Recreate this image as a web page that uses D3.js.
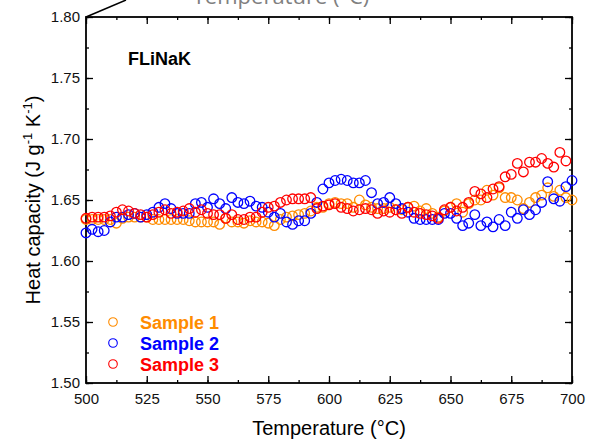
<!DOCTYPE html>
<html>
<head>
<meta charset="utf-8">
<script src="https://cdn.jsdelivr.net/npm/d3@7"></script>
<style>
  body { margin: 0; background: #fff; }
  text { font-family: "Liberation Sans", Arial, sans-serif; }
</style>
</head>
<body>
<div id="chart"></div>
<script>
// temperatures (°C) for the measured points
const temps = [500, 502.5, 505, 507.5, 510, 512.5, 515, 517.5, 520, 522.5,
  525, 527.5, 530, 532.5, 535, 537.5, 540, 542.5, 545, 547.5,
  550, 552.5, 555, 557.5, 560, 562.5, 565, 567.5, 570, 572.5,
  575, 577.5, 580, 582.5, 585, 587.5, 590, 592.5, 595, 597.5,
  600, 602.5, 605, 607.5, 610, 612.5, 615, 617.5, 620, 622.5,
  625, 627.5, 630, 632.5, 635, 637.5, 640, 642.5, 645, 647.5,
  650, 652.5, 655, 657.5, 660, 662.5, 665, 667.5, 670, 672.5,
  675, 677.5, 680, 682.5, 685, 687.5, 690, 692.5, 695, 697.5, 700];

const sample1 = [1.634, 1.634, 1.634, 1.634, 1.634, 1.631, 1.635, 1.636, 1.636, 1.636,
  1.636, 1.634, 1.634, 1.634, 1.634, 1.634, 1.634, 1.633, 1.632, 1.632,
  1.632, 1.632, 1.630, 1.635, 1.632, 1.632, 1.631, 1.633, 1.632, 1.632,
  1.631, 1.629, 1.634, 1.636, 1.637, 1.638, 1.639, 1.641, 1.644, 1.644,
  1.647, 1.648, 1.647, 1.647, 1.644, 1.650, 1.646, 1.644, 1.643, 1.643,
  1.644, 1.642, 1.642, 1.644, 1.645, 1.641, 1.643, 1.639, 1.636, 1.641,
  1.644, 1.647, 1.640, 1.647, 1.650, 1.650, 1.658, 1.654, 1.660, 1.652,
  1.652, 1.650, 1.643, 1.648, 1.652, 1.654, 1.660, 1.653, 1.658, 1.652, 1.650];

const sample2 = [1.623, 1.626, 1.624, 1.625, 1.632, 1.636, 1.636, 1.638, 1.639, 1.636,
  1.638, 1.640, 1.644, 1.647, 1.643, 1.639, 1.639, 1.639, 1.647, 1.648,
  1.644, 1.651, 1.647, 1.643, 1.652, 1.648, 1.647, 1.649, 1.645, 1.644,
  1.640, 1.636, 1.639, 1.632, 1.630, 1.633, 1.633, 1.639, 1.648, 1.659,
  1.664, 1.666, 1.667, 1.666, 1.664, 1.664, 1.666, 1.656, 1.647, 1.648,
  1.652, 1.647, 1.643, 1.640, 1.635, 1.634, 1.634, 1.634, 1.634, 1.639,
  1.639, 1.635, 1.629, 1.631, 1.638, 1.629, 1.632, 1.628, 1.634, 1.629,
  1.640, 1.635, 1.642, 1.638, 1.642, 1.648, 1.665, 1.651, 1.649, 1.661, 1.666];

const sample3 = [1.635, 1.636, 1.636, 1.636, 1.637, 1.640, 1.642, 1.641, 1.639, 1.638,
  1.636, 1.638, 1.640, 1.642, 1.639, 1.640, 1.641, 1.643, 1.640, 1.642,
  1.639, 1.638, 1.638, 1.635, 1.638, 1.634, 1.634, 1.636, 1.636, 1.640,
  1.644, 1.645, 1.648, 1.650, 1.651, 1.651, 1.651, 1.652, 1.643, 1.645,
  1.646, 1.647, 1.644, 1.643, 1.641, 1.642, 1.643, 1.642, 1.639, 1.641,
  1.640, 1.642, 1.639, 1.644, 1.640, 1.639, 1.638, 1.637, 1.635, 1.642,
  1.644, 1.641, 1.644, 1.648, 1.657, 1.655, 1.652, 1.659, 1.661, 1.669,
  1.671, 1.680, 1.673, 1.681, 1.681, 1.684, 1.680, 1.677, 1.689, 1.682];

const seriesNames = ["Sample 1", "Sample 2", "Sample 3"];
const seriesColors = ["#ff8c00", "#0000ff", "#ff0000"];
const xTicks = [500, 525, 550, 575, 600, 625, 650, 675, 700];
const yTicks = [1.50, 1.55, 1.60, 1.65, 1.70, 1.75, 1.80];

const outerWidth = 589, outerHeight = 439;
const margin = {left: 86, right: 17, top: 17, bottom: 56};
const innerWidth = outerWidth - margin.left - margin.right;
const innerHeight = outerHeight - margin.top - margin.bottom;

const svg = d3.select("#chart").append("svg")
    .attr("width", outerWidth)
    .attr("height", outerHeight);

// stray bits of an overlapping figure at the top edge
svg.append("text")
    .attr("x", 281).attr("y", 4)
    .attr("text-anchor", "middle")
    .style("font-family", "'Open Sans', sans-serif")
    .style("font-size", "22px")
    .attr("fill", "#808080")
    .text("Temperature (°C)");
svg.append("line")
    .attr("x1", margin.left).attr("y1", margin.top)
    .attr("x2", 126).attr("y2", 0)
    .attr("stroke", "#000").attr("stroke-width", 1.5);

const g = svg.append("g").attr("transform", `translate(${margin.left},${margin.top})`);

const xScale = d3.scaleLinear().domain([500, 700]).range([0, innerWidth]);
const yScale = d3.scaleLinear().domain([1.50, 1.80]).range([innerHeight, 0]);

const xMinor = d3.range(500, 700.01, 12.5);
const yMinor = d3.range(1.50, 1.8001, 0.025);

// minor ticks on all four sides
const minorX = (axisFn, tr) => g.append("g").attr("transform", tr)
    .call(axisFn.tickValues(xMinor).tickSizeInner(-3).tickSizeOuter(0).tickFormat(""));
const minorY = (axisFn, tr) => g.append("g").attr("transform", tr)
    .call(axisFn.tickValues(yMinor).tickSizeInner(-3).tickSizeOuter(0).tickFormat(""));
minorX(d3.axisBottom(xScale), `translate(0,${innerHeight})`);
minorX(d3.axisTop(xScale), "translate(0,0)");
minorY(d3.axisLeft(yScale), "translate(0,0)");
minorY(d3.axisRight(yScale), `translate(${innerWidth},0)`);

// major ticks
g.append("g").attr("transform", `translate(0,${innerHeight})`)
    .call(d3.axisBottom(xScale).tickValues(xTicks).tickSizeInner(-7).tickSizeOuter(0).tickPadding(10)
      .tickFormat(d3.format("d")));
g.append("g").call(d3.axisTop(xScale).tickValues(xTicks).tickSizeInner(-7).tickSizeOuter(0).tickFormat(""));
g.append("g")
    .call(d3.axisLeft(yScale).tickValues(yTicks).tickSizeInner(-7).tickSizeOuter(0).tickPadding(6)
      .tickFormat(d3.format(".2f")));
g.append("g").attr("transform", `translate(${innerWidth},0)`)
    .call(d3.axisRight(yScale).tickValues(yTicks).tickSizeInner(-7).tickSizeOuter(0).tickFormat(""));

g.selectAll(".domain").remove();
g.selectAll(".tick line").attr("stroke", "#000").attr("stroke-width", 1.3);
g.selectAll(".tick text").style("font-size", "15px").attr("fill", "#111");

g.append("rect")
    .attr("width", innerWidth).attr("height", innerHeight)
    .attr("fill", "none").attr("stroke", "#000").attr("stroke-width", 1.8);

// data points
const allSeries = [sample1, sample2, sample3];
allSeries.forEach((vals, i) => {
  g.append("g").selectAll("circle")
    .data(vals)
    .join("circle")
    .attr("cx", (d, j) => xScale(temps[j]))
    .attr("cy", d => yScale(d))
    .attr("r", 4.8)
    .attr("fill", "none")
    .attr("stroke", seriesColors[i])
    .attr("stroke-width", 1.3);
});

// label and legend
g.append("text")
    .attr("x", 42).attr("y", 48)
    .style("font-size", "18px").style("font-weight", "bold")
    .text("FLiNaK");

const legend = g.append("g").attr("transform", "translate(27,305)");
seriesNames.forEach((name, i) => {
  legend.append("circle")
    .attr("cx", 0).attr("cy", i * 21)
    .attr("r", 4.3)
    .attr("fill", "none")
    .attr("stroke", seriesColors[i])
    .attr("stroke-width", 1.1);
  legend.append("text")
    .attr("x", 27).attr("y", i * 21 + 6.5)
    .style("font-size", "18px").style("font-weight", "bold")
    .attr("fill", seriesColors[i])
    .text(name);
});

// axis titles
svg.append("text")
    .attr("x", margin.left + innerWidth / 2).attr("y", 435)
    .attr("text-anchor", "middle")
    .style("font-size", "20px")
    .text("Temperature (°C)");

const yTitle = svg.append("text")
    .attr("transform", `translate(40,${margin.top + innerHeight / 2}) rotate(-90)`)
    .attr("text-anchor", "middle")
    .style("font-size", "20px");
yTitle.append("tspan").text("Heat capacity (J g");
yTitle.append("tspan").attr("dy", -8).style("font-size", "13px").text("-1");
yTitle.append("tspan").attr("dy", 8).text(" K");
yTitle.append("tspan").attr("dy", -8).style("font-size", "13px").text("-1");
yTitle.append("tspan").attr("dy", 8).text(")");
</script>
</body>
</html>
